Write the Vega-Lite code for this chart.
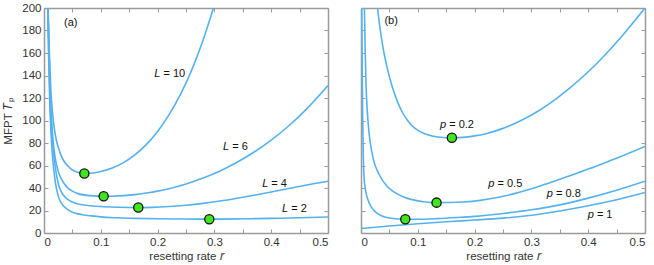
{
  "$schema": "https://vega.github.io/schema/vega-lite/v6.json",
  "padding": {"left": 2, "top": 2, "right": 5, "bottom": 0},
  "spacing": 31,
  "config": {
    "font": "Liberation Sans",
    "view": {"stroke": null},
    "axis": {
      "grid": false,
      "labelFont": "Liberation Sans",
      "labelFontSize": 11.5,
      "labelColor": "#333",
      "titleFont": "Liberation Sans",
      "titleFontSize": 11.5,
      "titleFontWeight": "normal",
      "titleColor": "#333",
      "domainColor": "#9a9a9a",
      "domainWidth": 1.5,
      "tickColor": "#9a9a9a",
      "tickWidth": 1,
      "tickSize": -4,
      "labelPadding": 7
    },
    "text": {"font": "Liberation Sans", "fontSize": 11, "color": "#111"}
  },
  "datasets": {
    "curvesA": [
      {"s": "L2", "r": 0.0065, "T": 200}, {"s": "L2", "r": 0.008, "T": 160}, {"s": "L2", "r": 0.01, "T": 118}, {"s": "L2", "r": 0.0125, "T": 88}, {"s": "L2", "r": 0.015, "T": 68}, {"s": "L2", "r": 0.02, "T": 45}, {"s": "L2", "r": 0.025, "T": 33}, {"s": "L2", "r": 0.03, "T": 27}, {"s": "L2", "r": 0.04, "T": 21.5}, {"s": "L2", "r": 0.05, "T": 18.5}, {"s": "L2", "r": 0.06, "T": 17}, {"s": "L2", "r": 0.07, "T": 16}, {"s": "L2", "r": 0.083, "T": 15.2}, {"s": "L2", "r": 0.1, "T": 14.3}, {"s": "L2", "r": 0.13, "T": 13.5}, {"s": "L2", "r": 0.16, "T": 13}, {"s": "L2", "r": 0.2, "T": 12.6}, {"s": "L2", "r": 0.25, "T": 12.4}, {"s": "L2", "r": 0.29, "T": 12.3}, {"s": "L2", "r": 0.35, "T": 12.6}, {"s": "L2", "r": 0.4, "T": 13}, {"s": "L2", "r": 0.45, "T": 13.5}, {"s": "L2", "r": 0.5, "T": 14.2},
      {"s": "L4", "r": 0.0068, "T": 200}, {"s": "L4", "r": 0.0085, "T": 160}, {"s": "L4", "r": 0.0105, "T": 122}, {"s": "L4", "r": 0.013, "T": 95}, {"s": "L4", "r": 0.016, "T": 75}, {"s": "L4", "r": 0.02, "T": 58}, {"s": "L4", "r": 0.025, "T": 44}, {"s": "L4", "r": 0.03, "T": 37}, {"s": "L4", "r": 0.04, "T": 30.5}, {"s": "L4", "r": 0.05, "T": 27.5}, {"s": "L4", "r": 0.06, "T": 25.8}, {"s": "L4", "r": 0.083, "T": 24.2}, {"s": "L4", "r": 0.1, "T": 23.5}, {"s": "L4", "r": 0.13, "T": 22.9}, {"s": "L4", "r": 0.166, "T": 22.6}, {"s": "L4", "r": 0.19, "T": 22.8}, {"s": "L4", "r": 0.22, "T": 23.5}, {"s": "L4", "r": 0.25, "T": 24.7}, {"s": "L4", "r": 0.28, "T": 26.3}, {"s": "L4", "r": 0.31, "T": 28.4}, {"s": "L4", "r": 0.34, "T": 30.9}, {"s": "L4", "r": 0.37, "T": 33.6}, {"s": "L4", "r": 0.4, "T": 36.5}, {"s": "L4", "r": 0.43, "T": 39.5}, {"s": "L4", "r": 0.46, "T": 42.5}, {"s": "L4", "r": 0.5, "T": 46},
      {"s": "L6", "r": 0.007, "T": 200}, {"s": "L6", "r": 0.009, "T": 160}, {"s": "L6", "r": 0.011, "T": 125}, {"s": "L6", "r": 0.0135, "T": 100}, {"s": "L6", "r": 0.016, "T": 82}, {"s": "L6", "r": 0.02, "T": 66}, {"s": "L6", "r": 0.025, "T": 55}, {"s": "L6", "r": 0.03, "T": 48.5}, {"s": "L6", "r": 0.04, "T": 41}, {"s": "L6", "r": 0.05, "T": 37.2}, {"s": "L6", "r": 0.06, "T": 35}, {"s": "L6", "r": 0.08, "T": 33.2}, {"s": "L6", "r": 0.105, "T": 32.6}, {"s": "L6", "r": 0.12, "T": 32.7}, {"s": "L6", "r": 0.14, "T": 33.2}, {"s": "L6", "r": 0.16, "T": 34.1}, {"s": "L6", "r": 0.18, "T": 35.5}, {"s": "L6", "r": 0.2, "T": 37.2}, {"s": "L6", "r": 0.22, "T": 39.4}, {"s": "L6", "r": 0.25, "T": 43.6}, {"s": "L6", "r": 0.28, "T": 48.8}, {"s": "L6", "r": 0.31, "T": 55.2}, {"s": "L6", "r": 0.34, "T": 62.9}, {"s": "L6", "r": 0.37, "T": 72}, {"s": "L6", "r": 0.4, "T": 82.6}, {"s": "L6", "r": 0.43, "T": 94.9}, {"s": "L6", "r": 0.46, "T": 109}, {"s": "L6", "r": 0.5, "T": 131},
      {"s": "L10", "r": 0.0072, "T": 200}, {"s": "L10", "r": 0.0095, "T": 160}, {"s": "L10", "r": 0.012, "T": 128}, {"s": "L10", "r": 0.015, "T": 107}, {"s": "L10", "r": 0.0187, "T": 91}, {"s": "L10", "r": 0.022, "T": 82}, {"s": "L10", "r": 0.0275, "T": 72.5}, {"s": "L10", "r": 0.03, "T": 69}, {"s": "L10", "r": 0.035, "T": 64}, {"s": "L10", "r": 0.042, "T": 59.5}, {"s": "L10", "r": 0.05, "T": 56}, {"s": "L10", "r": 0.06, "T": 53.8}, {"s": "L10", "r": 0.071, "T": 52.9}, {"s": "L10", "r": 0.08, "T": 53.1}, {"s": "L10", "r": 0.09, "T": 53.6}, {"s": "L10", "r": 0.1, "T": 54.6}, {"s": "L10", "r": 0.12, "T": 57.7}, {"s": "L10", "r": 0.14, "T": 62.6}, {"s": "L10", "r": 0.16, "T": 69.5}, {"s": "L10", "r": 0.18, "T": 78.6}, {"s": "L10", "r": 0.2, "T": 90.3}, {"s": "L10", "r": 0.22, "T": 105}, {"s": "L10", "r": 0.24, "T": 122.9}, {"s": "L10", "r": 0.26, "T": 144.8}, {"s": "L10", "r": 0.28, "T": 171.3}, {"s": "L10", "r": 0.3, "T": 202.9}
    ],
    "dotsA": [
      {"r": 0.071, "T": 52.9}, {"r": 0.105, "T": 32.6}, {"r": 0.166, "T": 22.6}, {"r": 0.291, "T": 12.2}
    ],
    "labelsA": [
      {"r": 0.205, "T": 141.3, "sym": "L", "rest": "= 10"},
      {"r": 0.326, "T": 76.6, "sym": "L", "rest": "= 6"},
      {"r": 0.395, "T": 44, "sym": "L", "rest": "= 4"},
      {"r": 0.43, "T": 21.7, "sym": "L", "rest": "= 2"}
    ],
    "curvesB": [
      {"s": "p1", "r": 0, "T": 4}, {"s": "p1", "r": 0.05, "T": 6.2}, {"s": "p1", "r": 0.1, "T": 8.2}, {"s": "p1", "r": 0.15, "T": 10}, {"s": "p1", "r": 0.2, "T": 11.5}, {"s": "p1", "r": 0.25, "T": 13.2}, {"s": "p1", "r": 0.3, "T": 15.8}, {"s": "p1", "r": 0.35, "T": 19.6}, {"s": "p1", "r": 0.4, "T": 24.2}, {"s": "p1", "r": 0.45, "T": 29.6}, {"s": "p1", "r": 0.5, "T": 36},
      {"s": "p08", "r": 0.0013, "T": 200}, {"s": "p08", "r": 0.002, "T": 150}, {"s": "p08", "r": 0.003, "T": 100}, {"s": "p08", "r": 0.004, "T": 70}, {"s": "p08", "r": 0.0053, "T": 50}, {"s": "p08", "r": 0.008, "T": 38}, {"s": "p08", "r": 0.012, "T": 30}, {"s": "p08", "r": 0.017, "T": 24}, {"s": "p08", "r": 0.025, "T": 19}, {"s": "p08", "r": 0.035, "T": 15.5}, {"s": "p08", "r": 0.05, "T": 13.3}, {"s": "p08", "r": 0.078, "T": 12.2}, {"s": "p08", "r": 0.1, "T": 12.2}, {"s": "p08", "r": 0.135, "T": 12.8}, {"s": "p08", "r": 0.17, "T": 13.8}, {"s": "p08", "r": 0.2, "T": 14.8}, {"s": "p08", "r": 0.25, "T": 17.4}, {"s": "p08", "r": 0.3, "T": 20.6}, {"s": "p08", "r": 0.35, "T": 25}, {"s": "p08", "r": 0.4, "T": 31}, {"s": "p08", "r": 0.45, "T": 38}, {"s": "p08", "r": 0.5, "T": 46},
      {"s": "p05", "r": 0.006, "T": 200}, {"s": "p05", "r": 0.0075, "T": 160}, {"s": "p05", "r": 0.009, "T": 130}, {"s": "p05", "r": 0.011, "T": 109}, {"s": "p05", "r": 0.014, "T": 90}, {"s": "p05", "r": 0.017, "T": 78}, {"s": "p05", "r": 0.022, "T": 65}, {"s": "p05", "r": 0.032, "T": 52}, {"s": "p05", "r": 0.045, "T": 42}, {"s": "p05", "r": 0.058, "T": 36.5}, {"s": "p05", "r": 0.075, "T": 32}, {"s": "p05", "r": 0.088, "T": 29.9}, {"s": "p05", "r": 0.11, "T": 27.8}, {"s": "p05", "r": 0.133, "T": 27}, {"s": "p05", "r": 0.155, "T": 27.1}, {"s": "p05", "r": 0.18, "T": 27.6}, {"s": "p05", "r": 0.21, "T": 29}, {"s": "p05", "r": 0.24, "T": 31.5}, {"s": "p05", "r": 0.27, "T": 35}, {"s": "p05", "r": 0.3, "T": 39.3}, {"s": "p05", "r": 0.33, "T": 44.3}, {"s": "p05", "r": 0.36, "T": 49.5}, {"s": "p05", "r": 0.39, "T": 55}, {"s": "p05", "r": 0.42, "T": 60.5}, {"s": "p05", "r": 0.45, "T": 66.5}, {"s": "p05", "r": 0.5, "T": 77},
      {"s": "p02", "r": 0.029, "T": 200}, {"s": "p02", "r": 0.033, "T": 184}, {"s": "p02", "r": 0.038, "T": 167}, {"s": "p02", "r": 0.046, "T": 147}, {"s": "p02", "r": 0.055, "T": 130}, {"s": "p02", "r": 0.064, "T": 117}, {"s": "p02", "r": 0.072, "T": 108}, {"s": "p02", "r": 0.082, "T": 100}, {"s": "p02", "r": 0.094, "T": 93.5}, {"s": "p02", "r": 0.11, "T": 88.6}, {"s": "p02", "r": 0.125, "T": 86.3}, {"s": "p02", "r": 0.14, "T": 85.1}, {"s": "p02", "r": 0.16, "T": 84.6}, {"s": "p02", "r": 0.18, "T": 85}, {"s": "p02", "r": 0.2, "T": 86.3}, {"s": "p02", "r": 0.22, "T": 88.3}, {"s": "p02", "r": 0.25, "T": 93}, {"s": "p02", "r": 0.28, "T": 99.5}, {"s": "p02", "r": 0.31, "T": 107.8}, {"s": "p02", "r": 0.34, "T": 117.9}, {"s": "p02", "r": 0.37, "T": 129.8}, {"s": "p02", "r": 0.4, "T": 143.3}, {"s": "p02", "r": 0.43, "T": 158.5}, {"s": "p02", "r": 0.46, "T": 175.4}, {"s": "p02", "r": 0.5, "T": 200.1}
    ],
    "dotsB": [
      {"r": 0.16, "T": 84.6}, {"r": 0.133, "T": 27}, {"r": 0.078, "T": 12.2}
    ],
    "labelsB": [
      {"r": 0.15, "T": 95.9, "sym": "p", "rest": "= 0.2"},
      {"r": 0.235, "T": 44, "sym": "p", "rest": "= 0.5"},
      {"r": 0.338, "T": 35, "sym": "p", "rest": "= 0.8"},
      {"r": 0.41, "T": 15.8, "sym": "p", "rest": "= 1"}
    ],
    "tagA": [{"r": 0.047, "T": 186.9, "t": "(a)"}],
    "tagB": [{"r": 0.053, "T": 188.7, "t": "(b)"}]
  },
  "hconcat": [
    {
      "width": 284,
      "height": 225,
      "resolve": {"axis": {"x": "independent", "y": "independent"}},
      "layer": [
        {
          "data": {"name": "curvesA"},
          "mark": {"type": "line", "interpolate": "monotone", "clip": true, "color": "#55b2f0", "strokeWidth": 1.6},
          "encoding": {
            "x": {"field": "r", "type": "quantitative", "scale": {"domain": [0, 0.5], "nice": false},
              "axis": {"orient": "bottom", "values": [0, 0.05, 0.1, 0.15, 0.2, 0.25, 0.3, 0.35, 0.4, 0.45, 0.5], "format": ".1~f", "labelExpr": "round(datum.value*100) % 10 == 0 ? datum.label : ''", "title": "resetting rate 𝑟", "titlePadding": 3}},
            "y": {"field": "T", "type": "quantitative", "scale": {"domain": [0, 200], "nice": false},
              "axis": {"orient": "left", "values": [0, 20, 40, 60, 80, 100, 120, 140, 160, 180, 200], "title": "MFPT 𝑇ₚ", "titlePadding": 8}},
            "detail": {"field": "s"}
          }
        },
        {
          "data": {"name": "dotsA"},
          "mark": {"type": "point", "filled": true, "fill": "#3fe61c", "stroke": "#111", "strokeWidth": 1.3, "size": 85, "opacity": 1},
          "encoding": {
            "x": {"field": "r", "type": "quantitative", "axis": {"orient": "top", "values": [0, 0.05, 0.1, 0.15, 0.2, 0.25, 0.3, 0.35, 0.4, 0.45, 0.5], "labels": false, "title": null}},
            "y": {"field": "T", "type": "quantitative", "axis": {"orient": "right", "values": [0, 20, 40, 60, 80, 100, 120, 140, 160, 180, 200], "labels": false, "title": null}}
          }
        },
        {
          "data": {"name": "labelsA"},
          "mark": {"type": "text", "align": "right", "baseline": "middle", "fontStyle": "italic"},
          "encoding": {
            "x": {"field": "r", "type": "quantitative", "axis": null},
            "y": {"field": "T", "type": "quantitative", "axis": null},
            "text": {"field": "sym"}
          }
        },
        {
          "data": {"name": "labelsA"},
          "mark": {"type": "text", "align": "left", "baseline": "middle", "dx": 3},
          "encoding": {
            "x": {"field": "r", "type": "quantitative", "axis": null},
            "y": {"field": "T", "type": "quantitative", "axis": null},
            "text": {"field": "rest"}
          }
        },
        {
          "data": {"name": "tagA"},
          "mark": {"type": "text", "align": "center", "baseline": "middle"},
          "encoding": {
            "x": {"field": "r", "type": "quantitative", "axis": null},
            "y": {"field": "T", "type": "quantitative", "axis": null},
            "text": {"field": "t"}
          }
        }
      ]
    },
    {
      "width": 284,
      "height": 225,
      "resolve": {"axis": {"x": "independent", "y": "independent"}},
      "layer": [
        {
          "data": {"name": "curvesB"},
          "mark": {"type": "line", "interpolate": "monotone", "clip": true, "color": "#55b2f0", "strokeWidth": 1.6},
          "encoding": {
            "x": {"field": "r", "type": "quantitative", "scale": {"domain": [0, 0.5], "nice": false},
              "axis": {"orient": "bottom", "values": [0, 0.05, 0.1, 0.15, 0.2, 0.25, 0.3, 0.35, 0.4, 0.45, 0.5], "format": ".1~f", "labelExpr": "round(datum.value*100) % 10 == 0 ? datum.label : ''", "title": "resetting rate 𝑟", "titlePadding": 3}},
            "y": {"field": "T", "type": "quantitative", "scale": {"domain": [0, 200], "nice": false},
              "axis": {"orient": "left", "values": [0, 20, 40, 60, 80, 100, 120, 140, 160, 180, 200], "labels": false, "title": null}},
            "detail": {"field": "s"}
          }
        },
        {
          "data": {"name": "dotsB"},
          "mark": {"type": "point", "filled": true, "fill": "#3fe61c", "stroke": "#111", "strokeWidth": 1.3, "size": 85, "opacity": 1},
          "encoding": {
            "x": {"field": "r", "type": "quantitative", "axis": {"orient": "top", "values": [0, 0.05, 0.1, 0.15, 0.2, 0.25, 0.3, 0.35, 0.4, 0.45, 0.5], "labels": false, "title": null}},
            "y": {"field": "T", "type": "quantitative", "axis": {"orient": "right", "values": [0, 20, 40, 60, 80, 100, 120, 140, 160, 180, 200], "labels": false, "title": null}}
          }
        },
        {
          "data": {"name": "labelsB"},
          "mark": {"type": "text", "align": "right", "baseline": "middle", "fontStyle": "italic"},
          "encoding": {
            "x": {"field": "r", "type": "quantitative", "axis": null},
            "y": {"field": "T", "type": "quantitative", "axis": null},
            "text": {"field": "sym"}
          }
        },
        {
          "data": {"name": "labelsB"},
          "mark": {"type": "text", "align": "left", "baseline": "middle", "dx": 3},
          "encoding": {
            "x": {"field": "r", "type": "quantitative", "axis": null},
            "y": {"field": "T", "type": "quantitative", "axis": null},
            "text": {"field": "rest"}
          }
        },
        {
          "data": {"name": "tagB"},
          "mark": {"type": "text", "align": "center", "baseline": "middle"},
          "encoding": {
            "x": {"field": "r", "type": "quantitative", "axis": null},
            "y": {"field": "T", "type": "quantitative", "axis": null},
            "text": {"field": "t"}
          }
        }
      ]
    }
  ]
}
